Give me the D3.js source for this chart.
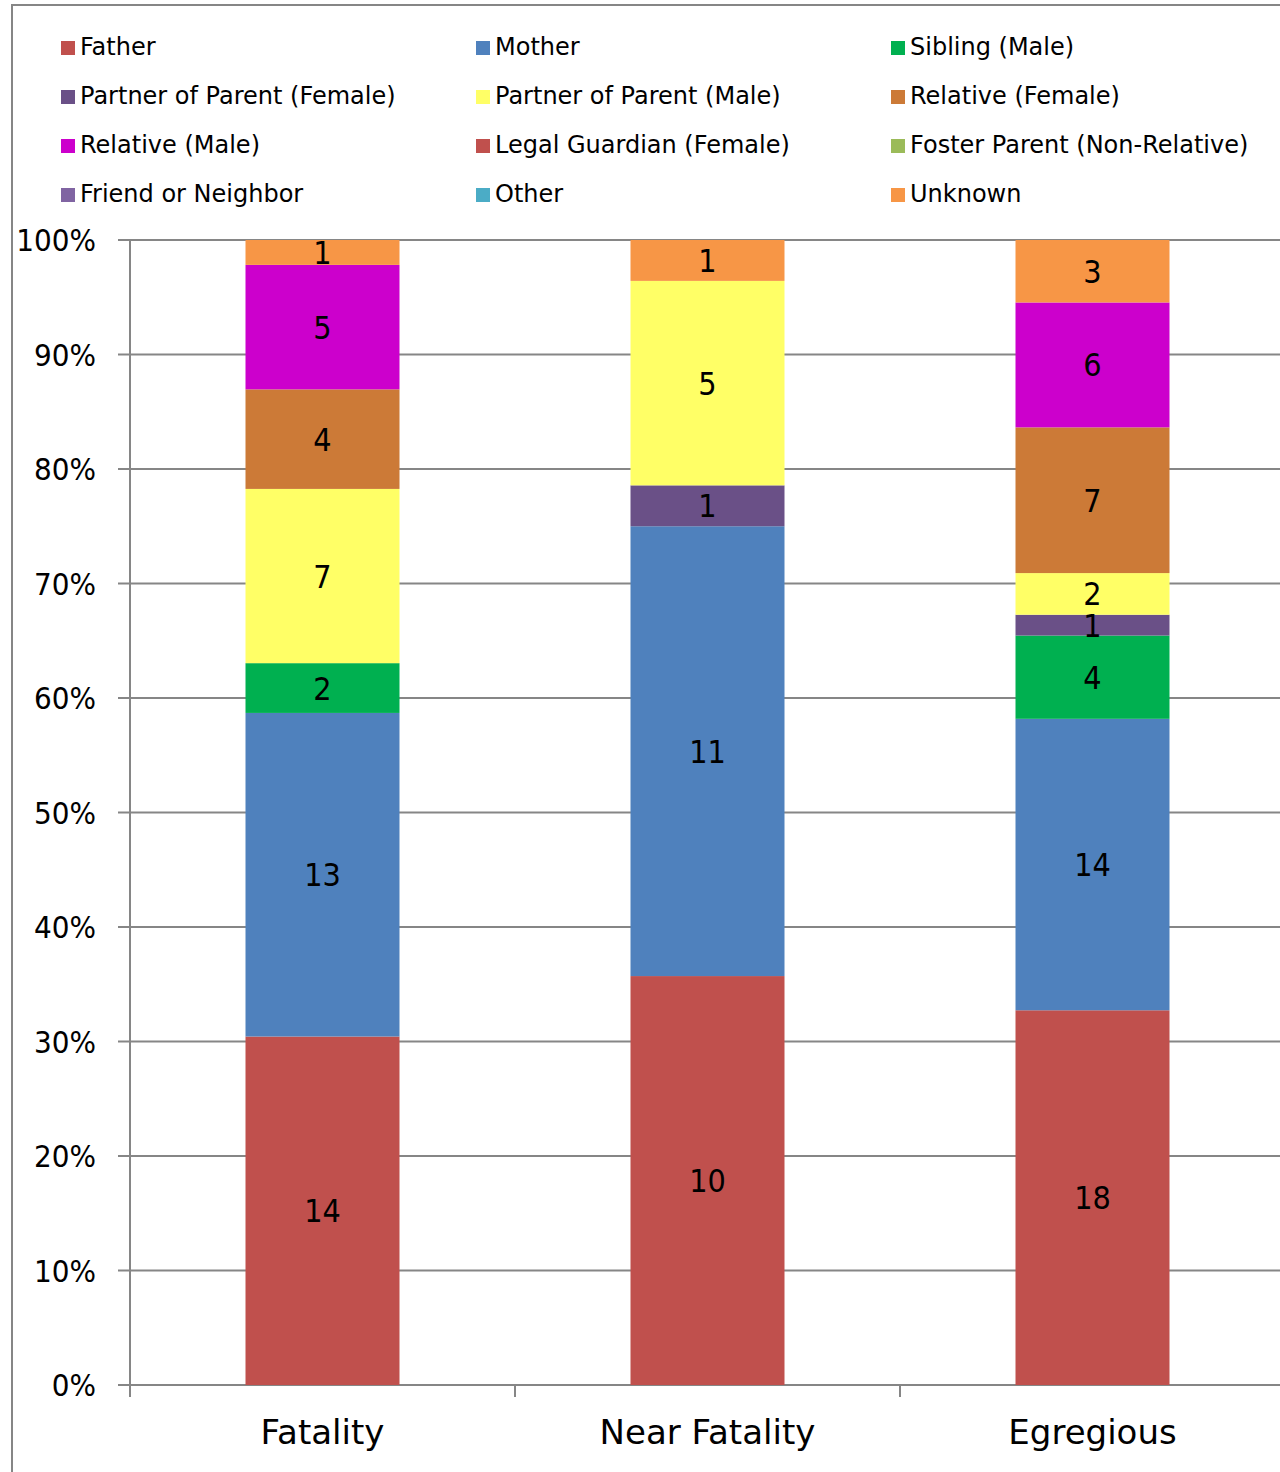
<!DOCTYPE html>
<html>
<head>
<meta charset="utf-8">
<script src="https://cdn.jsdelivr.net/npm/d3@7"></script>
<style>
  body { margin: 0; background: #fff; }
  svg { display: block; }
</style>
</head>
<body>
<div id="chart"></div>
<script>
(function(){
  var width = 1280,
    height = 1472;

  // categories on the x axis
  var categories = ["Fatality", "Near Fatality", "Egregious"];

  // series, in stacking order (bottom to top)
  var seriesNames = ["Father", "Mother", "Sibling (Male)", "Partner of Parent (Female)",
    "Partner of Parent (Male)", "Relative (Female)", "Relative (Male)",
    "Legal Guardian (Female)", "Foster Parent (Non-Relative)", "Friend or Neighbor",
    "Other", "Unknown"];
  var seriesColors = ["#C0504D", "#4F81BD", "#00B050", "#6A5087",
    "#FFFF66", "#CC7A37", "#CC00CC",
    "#C0504D", "#9BBB59", "#8064A2",
    "#4BACC6", "#F79646"];

  // counts per category (Fatality, Near Fatality, Egregious)
  var father = [14, 10, 18];
  var mother = [13, 11, 14];
  var siblingMale = [2, 0, 4];
  var partnerFemale = [0, 1, 1];
  var partnerMale = [7, 5, 2];
  var relativeFemale = [4, 0, 7];
  var relativeMale = [5, 0, 6];
  var legalGuardian = [0, 0, 0];
  var fosterParent = [0, 0, 0];
  var friendNeighbor = [0, 0, 0];
  var other = [0, 0, 0];
  var unknown = [1, 1, 3];

  var seriesValues = [father, mother, siblingMale, partnerFemale, partnerMale,
    relativeFemale, relativeMale, legalGuardian, fosterParent, friendNeighbor,
    other, unknown];

  var yTicks = [0, 0.1, 0.2, 0.3, 0.4, 0.5, 0.6, 0.7, 0.8, 0.9, 1];

  // rows for d3.stack
  var rows = categories.map(function(c, i){
    var r = {category: c};
    seriesNames.forEach(function(s, j){ r[s] = seriesValues[j][i]; });
    return r;
  });

  var svg = d3.select("#chart")
    .append("svg")
    .attr("width", width)
    .attr("height", height);

  // outer chart border (runs off the right/bottom edge)
  svg.append("path")
    .attr("d", "M12,1480 L12,5 L1290,5")
    .attr("fill", "none")
    .attr("stroke", "#868686")
    .attr("stroke-width", 2);

  var x = d3.scaleBand()
    .domain(categories)
    .range([130, 1285])
    .paddingInner(0.6)
    .paddingOuter(0.3);

  var y = d3.scaleLinear()
    .domain([0, 1])
    .range([1385, 240]);

  // gridlines
  svg.append("g")
    .selectAll("line")
    .data(yTicks)
    .enter().append("line")
    .attr("x1", 118)
    .attr("x2", 1290)
    .attr("y1", function(d){ return y(d); })
    .attr("y2", function(d){ return y(d); })
    .attr("stroke", "#868686")
    .attr("stroke-width", 2);

  // y axis line
  svg.append("line")
    .attr("x1", 130).attr("x2", 130)
    .attr("y1", y(1)).attr("y2", y(0) + 12)
    .attr("stroke", "#868686")
    .attr("stroke-width", 2);

  // category tick marks at band boundaries
  var bounds = [130].concat(categories.map(function(c){ return x(c) - x.step() * 0.3 + x.step(); }));
  svg.append("g")
    .selectAll("line")
    .data(bounds)
    .enter().append("line")
    .attr("x1", function(d){ return d; })
    .attr("x2", function(d){ return d; })
    .attr("y1", y(0))
    .attr("y2", y(0) + 12)
    .attr("stroke", "#868686")
    .attr("stroke-width", 2);

  // y labels
  svg.append("g")
    .selectAll("text")
    .data(yTicks)
    .enter().append("text")
    .attr("x", 96)
    .attr("y", function(d){ return y(d); })
    .attr("dy", "0.36em")
    .attr("text-anchor", "end")
    .style("font-family", "'DejaVu Sans Condensed', 'DejaVu Sans', sans-serif")
    .style("font-size", "31px")
    .attr("fill", "#000")
    .text(d3.format(".0%"));

  // x labels
  svg.append("g")
    .selectAll("text")
    .data(categories)
    .enter().append("text")
    .attr("x", function(d){ return x(d) + x.bandwidth() / 2; })
    .attr("y", 1444)
    .attr("text-anchor", "middle")
    .style("font-family", "'DejaVu Sans', sans-serif")
    .style("font-size", "34px")
    .attr("fill", "#000")
    .text(function(d){ return d; });

  var stack = d3.stack()
    .keys(seriesNames)
    .offset(d3.stackOffsetExpand);
  var layers = stack(rows);

  var layer = svg.append("g")
    .selectAll("g")
    .data(layers)
    .enter().append("g")
    .attr("fill", function(d, i){ return seriesColors[i]; });

  layer.selectAll("rect")
    .data(function(d){ return d; })
    .enter().append("rect")
    .attr("x", function(d){ return x(d.data.category); })
    .attr("width", x.bandwidth())
    .attr("y", function(d){ return y(d[1]); })
    .attr("height", function(d){ return y(d[0]) - y(d[1]); });

  // value labels
  layers.forEach(function(l){
    svg.append("g")
      .selectAll("text")
      .data(l.filter(function(d){ return d.data[l.key] > 0; }))
      .enter().append("text")
      .attr("x", function(d){ return x(d.data.category) + x.bandwidth() / 2; })
      .attr("y", function(d){ return (y(d[0]) + y(d[1])) / 2; })
      .attr("dy", "0.36em")
      .attr("text-anchor", "middle")
      .style("font-family", "'DejaVu Sans Condensed', 'DejaVu Sans', sans-serif")
      .style("font-size", "32px")
      .attr("fill", "#000")
      .text(function(d){ return d.data[l.key]; });
  });

  // legend, 3 columns row-major
  var legendX = [61, 476, 891];
  var legend = svg.append("g")
    .selectAll("g")
    .data(seriesNames)
    .enter().append("g")
    .attr("transform", function(d, i){
      return "translate(" + legendX[i % 3] + "," + (55 + Math.floor(i / 3) * 49) + ")";
    });

  legend.append("rect")
    .attr("x", 0)
    .attr("y", -14)
    .attr("width", 14)
    .attr("height", 14)
    .attr("fill", function(d, i){ return seriesColors[i]; });

  legend.append("text")
    .attr("x", 19)
    .attr("y", 0)
    .style("font-family", "'DejaVu Sans', sans-serif")
    .style("font-size", "24px")
    .attr("fill", "#000")
    .text(function(d){ return d; });
})();
</script>
</body>
</html>
